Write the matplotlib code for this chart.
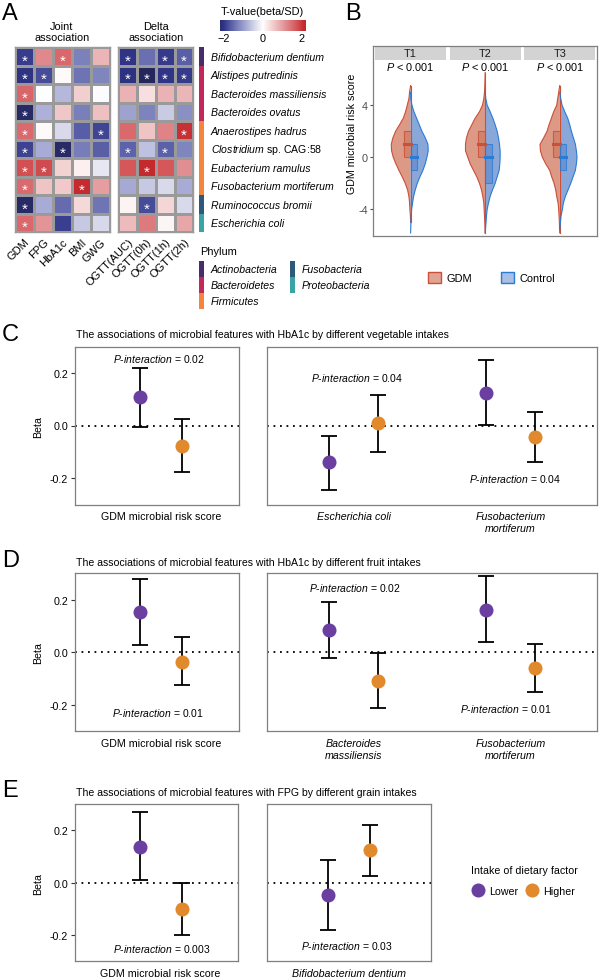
import numpy as np
import matplotlib.pyplot as plt
from matplotlib.colors import LinearSegmentedColormap
from matplotlib.patches import Rectangle, Patch
from matplotlib.lines import Line2D

plt.rcParams['font.family'] = ['Liberation Sans', 'DejaVu Sans']
plt.rcParams['mathtext.fontset'] = 'custom'
plt.rcParams['mathtext.rm'] = 'Liberation Sans'
plt.rcParams['mathtext.it'] = 'Liberation Sans:italic'
plt.rcParams['axes.unicode_minus'] = False

W, H = 600, 978

# ---------------- panel A data ----------------
species = ['Bifidobacterium dentium', 'Alistipes putredinis', 'Bacteroides massiliensis',
           'Bacteroides ovatus', 'Anaerostipes hadrus', r'$\mathit{Clostridium}$ sp. CAG:58',
           'Eubacterium ramulus', 'Fusobacterium mortiferum', 'Ruminococcus bromii',
           'Escherichia coli']
species_phylum = ['Actinobacteria', 'Bacteroidetes', 'Bacteroidetes', 'Bacteroidetes',
                  'Firmicutes', 'Firmicutes', 'Firmicutes', 'Firmicutes',
                  'Fusobacteria', 'Proteobacteria']
phylum_names = ['Actinobacteria', 'Bacteroidetes', 'Firmicutes', 'Fusobacteria', 'Proteobacteria']
phylum_colors = ['#4a2c6b', '#c3285a', '#f5843c', '#2d5a7c', '#3aa3a3']

joint_cols = ['GDM', 'FPG', 'HbA1c', 'BMI', 'GWG']
joint_t = [[-1.93, 1.21, 1.54, -1.28, 0.77],
           [-2.03, -1.77, 0.05, -1.41, -1.24],
           [1.57, 0.0, -0.73, 0.49, -0.03],
           [-2.3, -0.80, 0.57, -1.30, 0.65],
           [1.50, 0.05, -0.39, -1.63, -1.84],
           [-1.86, -0.86, -2.3, -1.32, -1.61],
           [1.78, 1.80, 0.45, 0.15, -0.25],
           [1.50, 0.60, 0.55, 2.10, 1.00],
           [-2.3, -0.85, -1.50, 0.40, -1.40],
           [1.55, 1.10, -1.90, -0.55, -0.40]]
joint_sig = [[1, 0, 1, 0, 0],
             [1, 1, 0, 0, 0],
             [1, 0, 0, 0, 0],
             [1, 0, 0, 0, 0],
             [1, 0, 0, 0, 1],
             [1, 0, 1, 0, 0],
             [1, 1, 0, 0, 0],
             [1, 0, 0, 1, 0],
             [1, 0, 0, 0, 0],
             [1, 0, 0, 0, 0]]

delta_cols = ['OGTT(AUC)', 'OGTT(0h)', 'OGTT(1h)', 'OGTT(2h)']
delta_t = [[-2.00, -1.45, -1.95, -1.60],
           [-2.05, -2.40, -2.00, -1.95],
           [0.80, 0.32, 0.80, 0.75],
           [-0.94, -1.27, -0.54, -1.14],
           [1.52, 0.60, 1.27, 2.03],
           [-1.56, -0.62, -1.58, -1.24],
           [1.70, 2.15, 1.70, 1.15],
           [-0.88, -0.56, -0.38, -0.85],
           [0.12, -1.78, 0.42, -0.38],
           [0.70, 1.35, 0.10, 0.90]]
delta_sig = [[1, 0, 1, 1],
             [1, 1, 1, 1],
             [0, 0, 0, 0],
             [0, 0, 0, 0],
             [0, 0, 0, 1],
             [1, 0, 1, 0],
             [0, 1, 0, 0],
             [0, 0, 0, 0],
             [0, 1, 0, 0],
             [0, 0, 0, 0]]

# ---------------- panel B data ----------------
trimesters = ['T1', 'T2', 'T3']
violin_y = [6.5, 6.0, 5.5, 5.0, 4.5, 4.0, 3.5, 3.0, 2.5, 2.0, 1.5, 1.0, 0.5, 0.0,
            -0.5, -1.0, -1.5, -2.0, -2.5, -3.0, -3.5, -4.0, -4.5, -5.0, -5.5, -5.8]
gdm_density = [
    [0, 0, 0, 3, 5, 10, 15, 22, 33, 45, 53, 58, 57, 52, 44, 35, 25, 16, 9, 5, 3, 2, 0.5, 0, 0, 0],
    [0, 0.5, 1, 2, 4, 8, 17, 30, 40, 50, 56, 59, 59, 52, 45, 35, 25, 17, 11, 7, 4, 3, 2, 1, 0.5, 0],
    [0, 0, 0, 3, 6, 9, 18, 25, 32, 38, 48, 59, 58, 52, 42, 30, 24, 17, 12, 9, 5, 3, 2, 1, 0.5, 0],
]
ctrl_density = [
    [0, 0, 0, 0, 0.5, 4, 10, 18, 26, 34, 44, 52, 53, 49, 44, 37, 28, 20, 14, 9, 6, 3, 2, 1, 0.5, 0],
    [0, 0, 0, 0, 2, 6, 15, 23, 30, 36, 40, 43, 45, 45, 44, 42, 36, 30, 22, 15, 10, 6, 4, 2.5, 1, 0],
    [0, 0, 0, 0, 3, 7, 15, 24, 30, 35, 41, 47, 50, 52, 50, 47, 40, 33, 25, 17, 11, 8, 4, 2, 0, 0],
]
gdm_q1, gdm_med, gdm_q3 = [0, 0, 0], [1, 1, 1], [2, 2, 2]
ctrl_q1, ctrl_med, ctrl_q3 = [-1, -2, -1], [0, 0, 0], [1, 1, 1]
p_trimester = ['< 0.001', '< 0.001', '< 0.001']

# ---------------- panels C-E data (beta, lower CI, upper CI) ----------------
c_left_cats = ['GDM microbial risk score']
c_left_low_beta, c_left_low_lo, c_left_low_hi = [0.107], [-0.005], [0.219]
c_left_high_beta, c_left_high_lo, c_left_high_hi = [-0.077], [-0.176], [0.025]
c_right_cats = ['Escherichia coli', 'Fusobacterium\nmortiferum']
c_right_low_beta, c_right_low_lo, c_right_low_hi = [-0.140, 0.123], [-0.245, 0.002], [-0.039, 0.247]
c_right_high_beta, c_right_high_lo, c_right_high_hi = [0.008, -0.045], [-0.100, -0.138], [0.116, 0.050]

d_left_cats = ['GDM microbial risk score']
d_left_low_beta, d_left_low_lo, d_left_low_hi = [0.154], [0.028], [0.278]
d_left_high_beta, d_left_high_lo, d_left_high_hi = [-0.036], [-0.124], [0.057]
d_right_cats = ['Bacteroides\nmassiliensis', 'Fusobacterium\nmortiferum']
d_right_low_beta, d_right_low_lo, d_right_low_hi = [0.085, 0.162], [-0.022, 0.038], [0.190, 0.289]
d_right_high_beta, d_right_high_lo, d_right_high_hi = [-0.108, -0.060], [-0.212, -0.150], [-0.004, 0.032]

e_left_cats = ['GDM microbial risk score']
e_left_low_beta, e_left_low_lo, e_left_low_hi = [0.137], [0.010], [0.269]
e_left_high_beta, e_left_high_lo, e_left_high_hi = [-0.100], [-0.199], [0.000]
e_right_cats = ['Bifidobacterium dentium']
e_right_low_beta, e_right_low_lo, e_right_low_hi = [-0.046], [-0.180], [0.087]
e_right_high_beta, e_right_high_lo, e_right_high_hi = [0.124], [0.026], [0.221]

PURPLE = '#6b3f9f'
ORANGE = '#e0892d'
GDM_C = '#c65a3c'
CTRL_C = '#3a6fc0'
GDM_EDGE = '#cc4f38'
CTRL_EDGE = '#2a7bd4'

fig = plt.figure(figsize=(6, 9.78), dpi=100)


def px_axes(x0, y0, x1, y1):
    return fig.add_axes([x0 / W, 1 - y1 / H, (x1 - x0) / W, (y1 - y0) / H])


def ftext(x, y, s, **kw):
    return fig.text(x / W, 1 - y / H, s, **kw)


def fig_rect(x0, y0, x1, y1, color):
    fig.add_artist(Rectangle((x0 / W, 1 - y1 / H), (x1 - x0) / W, (y1 - y0) / H,
                             transform=fig.transFigure, facecolor=color, edgecolor='none'))


# ================= A =================
VMAX = 2.4
cmap_stops = [(-2.4, '#25275c'), (-2.0, '#2f3487'), (-1.6, '#5a60a8'), (-1.3, '#7a80ba'),
              (-0.8, '#adb0d8'), (-0.4, '#d7d9ea'), (0.0, '#ffffff'), (0.4, '#f5d8d8'),
              (0.8, '#eab2b4'), (1.2, '#e08a8e'), (1.55, '#d9676b'), (1.8, '#d24d50'),
              (2.1, '#c42a2e'), (2.4, '#bd2226')]
cmap = LinearSegmentedColormap.from_list(
    'tv', [((v + VMAX) / (2 * VMAX), c) for v, c in cmap_stops])
n_rows = len(species)
A_FS = 7.9


def heat(ax, values, sig, cols):
    vals = np.array(values)
    ax.pcolormesh(vals, cmap=cmap, vmin=-VMAX, vmax=VMAX, edgecolors='#9a9a9a', linewidth=0.9)
    ax.set_ylim(n_rows, 0)
    ax.set_xlim(0, len(cols))
    for r, c in zip(*np.nonzero(np.array(sig))):
        ax.text(c + 0.5, r + 0.72, '*', color='white', ha='center', va='center', fontsize=11)
    ax.set_yticks([])
    ax.set_xticks(np.arange(len(cols)) + 0.5)
    ax.set_xticklabels(cols, rotation=45, ha='right', rotation_mode='anchor', fontsize=8)
    ax.tick_params(axis='x', length=0, pad=3)
    for sp in ax.spines.values():
        sp.set_color('#9a9a9a')
        sp.set_linewidth(1.0)


ax_j = px_axes(15, 48.3, 110, 233.3)
heat(ax_j, joint_t, joint_sig, joint_cols)
ax_d = px_axes(118.3, 48.3, 193.3, 233.3)
heat(ax_d, delta_t, delta_sig, delta_cols)
ftext(61.7, 32.5, 'Joint\nassociation', ha='center', va='center', fontsize=A_FS, linespacing=1.1)
ftext(155.7, 32.5, 'Delta\nassociation', ha='center', va='center', fontsize=A_FS, linespacing=1.1)

# phylum annotation bar
ax_p = px_axes(199.3, 48.3, 204, 233.3)
ph_col = dict(zip(phylum_names, phylum_colors))
for i, ph in enumerate(species_phylum):
    ax_p.add_patch(Rectangle((0, i), 1, 1, color=ph_col[ph], lw=0))
ax_p.set_xlim(0, 1)
ax_p.set_ylim(n_rows, 0)
ax_p.axis('off')
row_h = (233.3 - 48.3) / n_rows
for i, sp_name in enumerate(species):
    style = 'normal' if sp_name.startswith('$') else 'italic'
    ftext(210.7, 48.3 + (i + 0.5) * row_h, sp_name, ha='left', va='center',
          fontsize=7.6, style=style)

# colour bar
CB_LO, CB_HI = -2.17, 2.19
ax_cb = px_axes(220, 20.7, 305, 31.7)
ax_cb.imshow(np.linspace(CB_LO, CB_HI, 256)[None, :], aspect='auto', cmap=cmap,
             vmin=-VMAX, vmax=VMAX, extent=[CB_LO, CB_HI, 0, 1])
ax_cb.set_yticks([])
ax_cb.set_xticks([-2, 0, 2])
ax_cb.set_xticklabels(['\u22122', '0', '2'], fontsize=A_FS)
ax_cb.tick_params(axis='x', length=0, pad=1.5)
for sp in ax_cb.spines.values():
    sp.set_visible(False)
ftext(262.3, 11.7, 'T-value(beta/SD)', ha='center', va='center', fontsize=A_FS)

# phylum legend
ftext(200, 251.7, 'Phylum', ha='left', va='center', fontsize=A_FS)
legend_cols = [(199.3, [270, 286, 301.6]), (290, [270, 286])]
k = 0
for x0, ys in legend_cols:
    for yc in ys:
        fig_rect(x0, yc - 7.9, x0 + 4.5, yc + 7.9, phylum_colors[k])
        ftext(x0 + 11.5, yc, phylum_names[k], ha='left', va='center', fontsize=7.6,
              style='italic')
        k += 1

# ================= B =================
axb = px_axes(373.3, 46.7, 597, 237.3)
YTOP, YBOT = 8.56, -6.06
STRIP_LO = 7.48
WSCALE = 1 / (3 * 74.6)
BOXW = 0.09
vy = np.array(violin_y)


def trim(dens):
    d = np.array(dens, dtype=float)
    nz = np.nonzero(d)[0]
    a, b = max(nz[0] - 1, 0), min(nz[-1] + 1, len(d) - 1)
    return vy[a:b + 1], d[a:b + 1]


for i in range(len(trimesters)):
    y, d = trim(gdm_density[i])
    xs = np.concatenate([i - d * WSCALE, [i, i]])
    ys = np.concatenate([y, [y[-1], y[0]]])
    axb.fill(xs, ys, facecolor=GDM_C, alpha=0.62, edgecolor='none', zorder=2)
    axb.plot(np.append(i - d * WSCALE, i), np.append(y, y[-1]), color=GDM_EDGE, lw=0.8, zorder=3)
    axb.plot([i, i], [y[0], y[-1]], color=GDM_EDGE, lw=0.8, zorder=3)
    y, d = trim(ctrl_density[i])
    xs = np.concatenate([i + d * WSCALE, [i, i]])
    ys = np.concatenate([y, [y[-1], y[0]]])
    axb.fill(xs, ys, facecolor=CTRL_C, alpha=0.6, edgecolor='none', zorder=2)
    axb.plot(i + d * WSCALE, y, color=CTRL_EDGE, lw=0.8, zorder=3)
    # boxes
    axb.add_patch(Rectangle((i - BOXW, gdm_q1[i]), BOXW, gdm_q3[i] - gdm_q1[i],
                            facecolor=GDM_C, alpha=0.35, edgecolor='none', zorder=4))
    axb.add_patch(Rectangle((i - BOXW, gdm_q1[i]), BOXW, gdm_q3[i] - gdm_q1[i],
                            facecolor='none', edgecolor=GDM_EDGE, lw=0.8, alpha=0.8, zorder=4))
    axb.plot([i - BOXW, i], [gdm_med[i]] * 2, color=GDM_EDGE, lw=2.2, zorder=5)
    axb.add_patch(Rectangle((i, ctrl_q1[i]), BOXW, ctrl_q3[i] - ctrl_q1[i],
                            facecolor=CTRL_C, alpha=0.35, edgecolor='none', zorder=4))
    axb.add_patch(Rectangle((i, ctrl_q1[i]), BOXW, ctrl_q3[i] - ctrl_q1[i],
                            facecolor='none', edgecolor=CTRL_EDGE, lw=0.8, alpha=0.8, zorder=4))
    axb.plot([i, i + BOXW], [ctrl_med[i]] * 2, color=CTRL_EDGE, lw=2.2, zorder=5)
    # strip + p-value
    axb.add_patch(Rectangle((i - 0.5 + 0.025, STRIP_LO), 0.95, YTOP - STRIP_LO,
                            facecolor='#d3d3d3', edgecolor='none', zorder=1))
    axb.text(i, (STRIP_LO + YTOP) / 2, trimesters[i], ha='center', va='center',
             fontsize=7.8, color='#1a1a1a')
    axb.text(i, 6.98, r'$\mathit{P}$ ' + p_trimester[i], ha='center', va='center', fontsize=7.8)

axb.set_xlim(-0.5, 2.5)
axb.set_ylim(YBOT, YTOP)
axb.set_xticks([])
axb.set_yticks([-4, 0, 4])
axb.set_yticklabels(['-4', '0', '4'])
axb.tick_params(axis='y', length=2.5, color='#4d4d4d', labelcolor='#4d4d4d', labelsize=7.8, pad=1.5)
for sp in axb.spines.values():
    sp.set_color('#7f7f7f')
    sp.set_linewidth(0.9)
ftext(351.7, 134, 'GDM microbial risk score', rotation=90, ha='center', va='center', fontsize=7.7)

b_handles = [Patch(facecolor='#e0a592', edgecolor=GDM_EDGE, lw=1.0),
             Patch(facecolor='#a9bfe3', edgecolor=CTRL_EDGE, lw=1.0)]
fig.legend(b_handles, ['GDM', 'Control'], ncol=2, loc='center left',
           bbox_to_anchor=(428 / W, 1 - 278.5 / H), frameon=False, borderpad=0,
           borderaxespad=0, handlelength=1.2, handleheight=1.2, handletextpad=0.5,
           columnspacing=2.6, fontsize=7.9)

# ================= C-E =================
DODGE = 0.155
CE_FS = 7.7


def forest(ax, cats, low, high, xlim, italic, yticks=True):
    pos = np.arange(1, len(cats) + 1)
    for off, grp, col in [(-DODGE, low, PURPLE), (DODGE, high, ORANGE)]:
        b, lo, hi = (np.atleast_1d(np.asarray(v, dtype=float)) for v in grp)
        ax.errorbar(pos + off, b, yerr=[b - lo, hi - b], fmt='none', ecolor='black',
                    elinewidth=1.3, capsize=6, capthick=1.3, zorder=2)
        ax.scatter(pos + off, b, s=102, color=col, linewidths=0, zorder=3)
    ax.axhline(0, color='black', lw=1.3, ls=(0, (1, 2.6)), zorder=1)
    ax.set_xlim(*xlim)
    ax.set_ylim(-0.30, 0.30)
    ax.set_xticks(pos)
    ax.set_xticklabels(cats, fontsize=CE_FS, style='italic' if italic else 'normal')
    ax.tick_params(axis='x', length=0, pad=5)
    if yticks:
        ax.set_yticks([-0.2, 0.0, 0.2])
        ax.set_yticklabels(['-0.2', '0.0', '0.2'])
        ax.tick_params(axis='y', length=3, color='#333333', labelsize=CE_FS, pad=2)
        ax.set_ylabel('Beta', fontsize=CE_FS, labelpad=5)
    else:
        ax.set_yticks([])
    for sp in ax.spines.values():
        sp.set_color('#7f7f7f')
        sp.set_linewidth(0.9)


def p_int(x, y, val):
    ftext(x, y, r'$\mathit{P}$-$\mathit{interaction}$ = ' + val, ha='center', va='center',
          fontsize=7.5)


LEFT_X = (0.37, 1.57)
TITLE_FS = 7.6

# C
ax = px_axes(75, 347.5, 239.3, 505.5)
forest(ax, c_left_cats,
       (c_left_low_beta, c_left_low_lo, c_left_low_hi),
       (c_left_high_beta, c_left_high_lo, c_left_high_hi), LEFT_X, False)
ax = px_axes(267.3, 347.5, 596.7, 505.5)
forest(ax, c_right_cats,
       (c_right_low_beta, c_right_low_lo, c_right_low_hi),
       (c_right_high_beta, c_right_high_lo, c_right_high_hi), (0.45, 2.55), True, False)
ftext(76, 335, 'The associations of microbial features with HbA1c by different vegetable intakes',
      ha='left', va='center', fontsize=TITLE_FS)
p_int(158.7, 359.3, '0.02')
p_int(357.2, 378.3, '0.04')
p_int(515, 479, '0.04')

# D
ax = px_axes(75, 574.3, 239.3, 732.3)
forest(ax, d_left_cats,
       (d_left_low_beta, d_left_low_lo, d_left_low_hi),
       (d_left_high_beta, d_left_high_lo, d_left_high_hi), LEFT_X, False)
ax = px_axes(267.3, 574.3, 596.7, 732.3)
forest(ax, d_right_cats,
       (d_right_low_beta, d_right_low_lo, d_right_low_hi),
       (d_right_high_beta, d_right_high_lo, d_right_high_hi), (0.45, 2.55), True, False)
ftext(76, 563.3, 'The associations of microbial features with HbA1c by different fruit intakes',
      ha='left', va='center', fontsize=TITLE_FS)
p_int(157.6, 712.7, '0.01')
p_int(355, 587.7, '0.02')
p_int(506.3, 709, '0.01')

# E
ax = px_axes(75, 805, 238, 962.3)
forest(ax, e_left_cats,
       (e_left_low_beta, e_left_low_lo, e_left_low_hi),
       (e_left_high_beta, e_left_high_lo, e_left_high_hi), LEFT_X, False)
ax = px_axes(266.7, 805, 430.7, 962.3)
forest(ax, e_right_cats,
       (e_right_low_beta, e_right_low_lo, e_right_low_hi),
       (e_right_high_beta, e_right_high_lo, e_right_high_hi), (0.4, 1.6), True, False)
ftext(76, 792.7, 'The associations of microbial features with FPG by different grain intakes',
      ha='left', va='center', fontsize=TITLE_FS)
p_int(161.8, 949, '0.003')
p_int(346.4, 946, '0.03')

e_handles = [Line2D([], [], ls='none', marker='o', markersize=10.1, color=PURPLE, mew=0),
             Line2D([], [], ls='none', marker='o', markersize=10.1, color=ORANGE, mew=0)]
fig.legend(e_handles, ['Lower', 'Higher'], title='Intake of dietary factor', ncol=2,
           loc='upper left', bbox_to_anchor=(471 / W, 1 - 866 / H), frameon=False,
           borderpad=0, borderaxespad=0, handlelength=1.3, handletextpad=0.4,
           columnspacing=0.6, labelspacing=1.05, alignment='left', fontsize=7.7,
           title_fontproperties={'size': 7.7})

# panel letters
for letter, yy in [('A', 13.5), ('B', 13.5), ('C', 335), ('D', 561), ('E', 791)]:
    ftext(345 if letter == 'B' else 2, yy, letter, ha='left', va='center', fontsize=17)

fig.savefig('out.png', dpi=100)
